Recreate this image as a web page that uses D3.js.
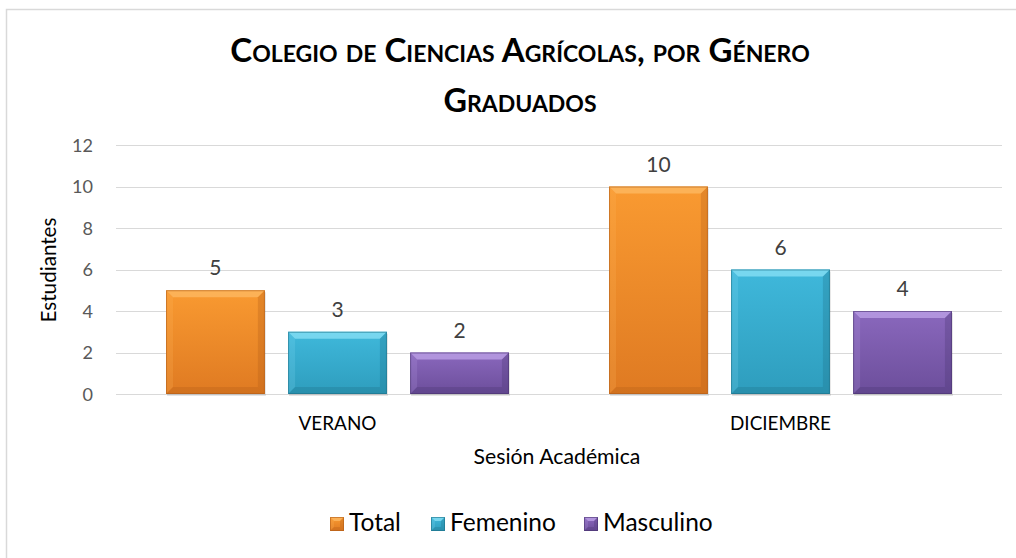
<!DOCTYPE html>
<html><head><meta charset="utf-8">
<script src="https://cdn.jsdelivr.net/npm/d3@7"></script>
<style>body{margin:0;background:#fff}svg{display:block;font-family:Lato,"Open Sans",sans-serif}</style>
</head><body><svg id="c" width="1016" height="558"></svg>
<script>
const categories = ["VERANO", "DICIEMBRE"];
const seriesNames = ["Total", "Femenino", "Masculino"];
const totalValues = [5, 10];
const femeninoValues = [3, 6];
const masculinoValues = [2, 4];
const yTicks = [0, 2, 4, 6, 8, 10, 12];
const titleLines = ["Colegio de Ciencias Agrícolas, por Género", "Graduados"];
const yLabel = "Estudiantes";
const xLabel = "Sesión Académica";

const colors = {
  Total: {light:"#fdb861", mid:"#f99a31", dark:"#df7a22", edge:"#b25e18"},
  Femenino: {light:"#86def4", mid:"#3fb8db", dark:"#2e9dbd", edge:"#1d7188"},
  Masculino: {light:"#bba0e6", mid:"#8a68bd", dark:"#6c4e9b", edge:"#4a346f"}
};

const svg = d3.select("#c");
const defs = svg.append("defs");
seriesNames.forEach(s=>{
  const g = defs.append("linearGradient").attr("id","g"+s).attr("x1",0).attr("y1",0).attr("x2",0).attr("y2",1);
  g.append("stop").attr("offset","0%").attr("stop-color",colors[s].mid);
  g.append("stop").attr("offset","100%").attr("stop-color",colors[s].dark);
});

function fit(sel, target){
  const n = sel.node();
  const fs = parseFloat(sel.attr("font-size"));
  const w = n.getComputedTextLength();
  sel.attr("font-size", fs*target/w);
  return fs*target/w;
}

// border
svg.append("rect").attr("x",6.5).attr("y",9.5).attr("width",1030).attr("height",570)
  .attr("fill","none").attr("stroke","#d9d9d9").attr("stroke-width",1.5);

const m = {left:116, right:1002, top:145, bottom:394};
const x0 = d3.scaleBand().domain(categories).range([m.left, m.right]).paddingInner(0).paddingOuter(0);
const x1 = d3.scaleBand().domain(seriesNames).range([0, x0.bandwidth()]).paddingInner(0.19).paddingOuter(0.41);
const y = d3.scaleLinear().domain([0,12]).range([m.bottom, m.top]);

// gridlines
svg.append("g").selectAll("line").data(yTicks).join("line")
  .attr("x1",m.left).attr("x2",m.right)
  .attr("y1",d=>Math.round(y(d))+0.5).attr("y2",d=>Math.round(y(d))+0.5)
  .attr("stroke","#d9d9d9").attr("stroke-width",1.2);

// y tick labels
const yt = svg.append("g").selectAll("text").data(yTicks).join("text")
  .attr("x",93).attr("y",d=>y(d)).attr("dy","0.36em").attr("text-anchor","end")
  .attr("font-size",18).attr("fill","#595959").text(d=>d);
const tickFs = fit(yt.filter(d=>d===12), 21);
yt.attr("font-size", tickFs);

// title
const titleY = [62, 112];
const titleW = [592, 154];
titleLines.forEach((t,i)=>{
  const tt = svg.append("text").attr("x",520).attr("y",titleY[i]).attr("text-anchor","middle")
    .attr("font-size",28).attr("font-weight","bold").attr("fill","#000")
    .style("font-variant","small-caps").text(t);
  fit(tt, titleW[i]);
});

// axis titles
const yl = svg.append("text").attr("transform","translate(56,270) rotate(-90)").attr("text-anchor","middle")
  .attr("font-size",20).attr("fill","#000").text(yLabel);
fit(yl, 105);
const xl = svg.append("text").attr("x",557).attr("y",464).attr("text-anchor","middle")
  .attr("font-size",18).attr("fill","#000").text(xLabel);
fit(xl, 167);

// category labels
const cl = svg.append("g").selectAll("text").data(categories).join("text")
  .attr("x",d=>x0(d)+x0.bandwidth()/2).attr("y",430).attr("text-anchor","middle")
  .attr("font-size",18).attr("fill","#000").text(d=>d);
const catFs = fit(cl.filter(d=>d==="VERANO"), 78);
cl.attr("font-size", catFs);

const data = [];
categories.forEach((c,i)=>{
  data.push({cat:c, s:"Total", v:totalValues[i]});
  data.push({cat:c, s:"Femenino", v:femeninoValues[i]});
  data.push({cat:c, s:"Masculino", v:masculinoValues[i]});
});

function bevel(g, x, yTop, w, h, s, b){
  const c = colors[s];
  g.append("rect").attr("x",x).attr("y",yTop).attr("width",w).attr("height",h).attr("fill","url(#g"+s+")");
  const x2 = x+w, y2 = yTop+h;
  g.append("path").attr("d",`M${x},${yTop}L${x2},${yTop}L${x2-b},${yTop+b}L${x+b},${yTop+b}Z`).attr("fill",c.light).attr("opacity",0.8);
  g.append("path").attr("d",`M${x},${yTop}L${x+b},${yTop+b}L${x+b},${y2-b}L${x},${y2}Z`).attr("fill",c.light).attr("opacity",0.2);
  g.append("path").attr("d",`M${x2},${yTop}L${x2-b},${yTop+b}L${x2-b},${y2-b}L${x2},${y2}Z`).attr("fill",c.edge).attr("opacity",0.3);
  g.append("path").attr("d",`M${x},${y2}L${x+b},${y2-b}L${x2-b},${y2-b}L${x2},${y2}Z`).attr("fill",c.edge).attr("opacity",0.3);
  g.append("rect").attr("x",x+0.5).attr("y",yTop+0.5).attr("width",w-1).attr("height",h-1)
    .attr("fill","none").attr("stroke",c.edge).attr("stroke-width",1).attr("opacity",0.6);
}

const bars = svg.append("g");
data.forEach(d=>{
  const bx = x0(d.cat)+x1(d.s);
  const bw = x1.bandwidth();
  const top = y(d.v);
  const g = bars.append("g");
  g.append("rect").attr("x",bx+1).attr("y",top+2).attr("width",bw).attr("height",m.bottom-top)
    .attr("fill","#000").attr("opacity",0.1);
  bevel(g, bx, top, bw, m.bottom-top, d.s, 7);
  svg.append("text").attr("x",bx+bw/2).attr("y",top-15).attr("text-anchor","middle")
    .attr("font-size",21).attr("fill","#404040").text(d.v);
});

// legend
const legendX = [330, 431, 584];
const lg = svg.append("g");
let legFs = null;
seriesNames.forEach((s,i)=>{
  const g = lg.append("g");
  bevel(g, legendX[i], 517, 14, 14, s, 4);
  const t = g.append("text").attr("x",legendX[i]+19).attr("y",531).attr("font-size",legFs||24).attr("fill","#000").text(s);
  if(i===1){ legFs = fit(t,106); }
});
lg.selectAll("text").attr("font-size", legFs);
</script></body></html>
